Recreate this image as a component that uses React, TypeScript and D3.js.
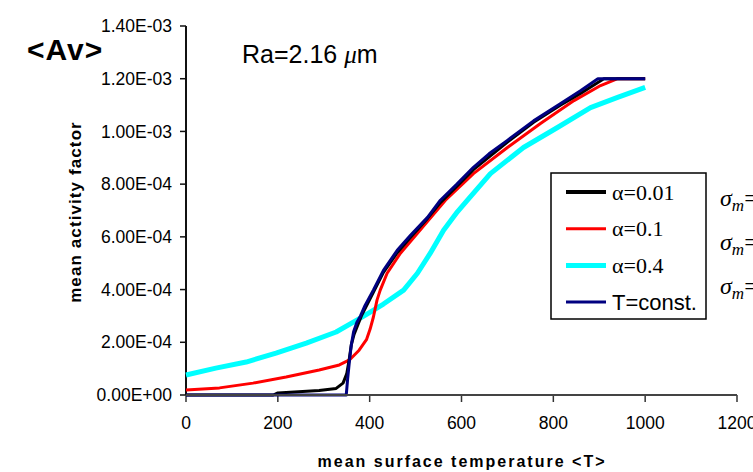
import React from "react";
import * as d3 from "d3";

const xTicks = [0, 200, 400, 600, 800, 1000, 1200];
const yTicks = [0, 2e-4, 4e-4, 6e-4, 8e-4, 1e-3, 1.2e-3, 1.4e-3];
const yTickLabels = ["0.00E+00", "2.00E-04", "4.00E-04", "6.00E-04", "8.00E-04", "1.00E-03", "1.20E-03", "1.40E-03"];

// alpha = 0.4 (cyan)
const cyanT = [0, 65, 131, 196, 262, 327, 373, 386, 430, 474, 504, 532, 561, 591, 613, 663, 735, 809, 881, 940, 1000];
const cyanV = [0.76e-4, 1.02e-4, 1.25e-4, 1.59e-4, 1.97e-4, 2.39e-4, 2.85e-4, 2.98e-4, 3.45e-4, 3.98e-4, 4.62e-4, 5.38e-4, 6.25e-4, 6.95e-4, 7.39e-4, 8.4e-4, 9.39e-4, 10.15e-4, 10.9e-4, 11.29e-4, 11.67e-4];

// alpha = 0.1 (red)
const redT = [0, 73, 146, 218, 290, 334, 356, 377, 393, 401, 408, 416, 423, 438, 467, 504, 565, 626, 700, 772, 845, 903, 940, 1000];
const redV = [0.19e-4, 0.27e-4, 0.45e-4, 0.68e-4, 0.95e-4, 1.14e-4, 1.33e-4, 1.7e-4, 2.1e-4, 2.5e-4, 2.95e-4, 3.6e-4, 3.98e-4, 4.62e-4, 5.38e-4, 6.14e-4, 7.39e-4, 8.4e-4, 9.39e-4, 10.3e-4, 11.17e-4, 11.74e-4, 12.0e-4, 12.0e-4];

// alpha = 0.01 (black)
const blackT = [0, 190, 200, 290, 327, 342, 350, 355, 360, 366, 375, 382, 408, 430, 460, 490, 526, 554, 626, 700, 757, 816, 860, 910, 1000];
const blackV = [0, 0, 0.08e-4, 0.17e-4, 0.25e-4, 0.45e-4, 0.8e-4, 1.3e-4, 1.9e-4, 2.3e-4, 2.7e-4, 3.0e-4, 3.9e-4, 4.65e-4, 5.4e-4, 6.0e-4, 6.7e-4, 7.3e-4, 8.55e-4, 9.6e-4, 10.35e-4, 11.0e-4, 11.45e-4, 12.0e-4, 12.0e-4];

// T = const. (navy)
const navyT = [0, 349, 352, 356, 360, 365, 372, 380, 390, 408, 430, 460, 489, 526, 554, 590, 626, 660, 700, 757, 816, 860, 897, 1000];
const navyV = [0, 0, 0.6e-4, 1.3e-4, 1.9e-4, 2.4e-4, 2.75e-4, 3.0e-4, 3.4e-4, 3.98e-4, 4.73e-4, 5.49e-4, 6.06e-4, 6.74e-4, 7.39e-4, 8.0e-4, 8.64e-4, 9.15e-4, 9.66e-4, 10.4e-4, 11.06e-4, 11.55e-4, 12.0e-4, 12.0e-4];

const seriesLabels = ["\u03b1=0.01", "\u03b1=0.1", "\u03b1=0.4", "T=const."];
const sigmaLabels = ["\u03c3", "\u03c3", "\u03c3"];

const SANS = "Liberation Sans, Arial, sans-serif";
const SERIF = "Liberation Serif, Times New Roman, serif";

export default function App() {
  const W = 753, H = 472;
  const x = d3.scaleLinear().domain([0, 1200]).range([186, 737]);
  const y = d3.scaleLinear().domain([0, 1.4e-3]).range([395, 26]);
  const line = d3.line<[number, number]>().x(d => x(d[0])).y(d => y(d[1]));
  const zip = (a: number[], b: number[]) => a.map((t, i) => [t, b[i]] as [number, number]);

  const series = [
    { d: zip(cyanT, cyanV), color: "#00ffff", w: 5 },
    { d: zip(redT, redV), color: "#ff0000", w: 3 },
    { d: zip(blackT, blackV), color: "#000000", w: 3 },
    { d: zip(navyT, navyV), color: "#000080", w: 3 },
  ];

  const legend = [
    { label: seriesLabels[0], color: "#000000", w: 4, font: SERIF, size: 22 },
    { label: seriesLabels[1], color: "#ff0000", w: 3, font: SERIF, size: 22 },
    { label: seriesLabels[2], color: "#00ffff", w: 5, font: SERIF, size: 22 },
    { label: seriesLabels[3], color: "#000080", w: 3, font: SANS, size: 22 },
  ];

  return (
    <svg width={W} height={H} style={{ position: "absolute", left: 0, top: 0, background: "#fff" }}>
      {/* titles */}
      <text x={27} y={60} fontFamily={SANS} fontWeight="bold" fontSize={30} letterSpacing={1}>{"<Av>"}</text>
      <text x={242} y={63} fontFamily={SANS} fontSize={25}>
        Ra=2.16 <tspan fontFamily={SERIF} fontStyle="italic">{"\u03bc"}</tspan>m
      </text>

      {/* y axis */}
      <line x1={186} x2={186} y1={y(1.4e-3)} y2={395} stroke="#111" strokeWidth={2} />
      {yTicks.map((t, i) => (
        <g key={i}>
          <line x1={180} x2={186} y1={y(t)} y2={y(t)} stroke="#111" strokeWidth={1.5} />
          <text x={172} y={y(t)} dy="0.35em" textAnchor="end" fontFamily={SANS} fontSize={17.5}>{yTickLabels[i]}</text>
        </g>
      ))}
      <text transform={`translate(81,212) rotate(-90)`} textAnchor="middle" fontFamily={SANS} fontWeight="bold" fontSize={17} letterSpacing={1.1}>mean activity factor</text>

      {/* x axis */}
      {xTicks.map((t, i) => (
        <g key={i}>
          <line x1={x(t)} x2={x(t)} y1={395} y2={402} stroke="#333" strokeWidth={1.5} />
          <text x={x(t)} y={429} textAnchor="middle" fontFamily={SANS} fontSize={17.5}>{t}</text>
        </g>
      ))}
      <text x={462} y={467} textAnchor="middle" fontFamily={SANS} fontWeight="bold" fontSize={16} letterSpacing={2}>{"mean surface temperature <T>"}</text>

      {/* series */}
      {series.map((s, i) => (
        <path key={i} d={line(s.d) || ""} fill="none" stroke={s.color} strokeWidth={s.w} strokeLinejoin="round" />
      ))}
      <line x1={186} x2={737} y1={395} y2={395} stroke="#444" strokeWidth={2} />

      {/* legend */}
      <rect x={551} y={173} width={155} height={146} fill="#fff" stroke="#000" strokeWidth={1.5} />
      {legend.map((l, i) => {
        const yy = 192 + i * 36.7;
        return (
          <g key={i}>
            <line x1={566} x2={606} y1={yy} y2={yy} stroke={l.color} strokeWidth={l.w} />
            <text x={612} y={yy} dy="0.35em" fontFamily={l.font} fontSize={l.size}>{l.label}</text>
          </g>
        );
      })}

      {/* sigma labels */}
      {sigmaLabels.map((s, i) => (
        <text key={i} x={720} y={206 + i * 44} fontFamily={SERIF} fontStyle="italic" fontSize={24}>
          {s}<tspan fontSize={17} dy={5}>m</tspan><tspan fontStyle="normal" dy={-5}>=</tspan>
        </text>
      ))}
    </svg>
  );
}
